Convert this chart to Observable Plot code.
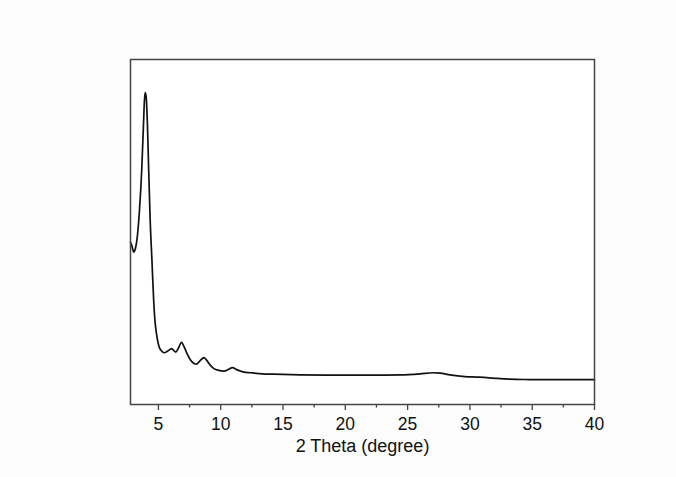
<!DOCTYPE html>
<html>
<head>
<meta charset="utf-8">
<script src="https://cdn.jsdelivr.net/npm/d3@7"></script>
<script src="https://cdn.jsdelivr.net/npm/@observablehq/plot@0.6"></script>
<style>
  html, body { margin: 0; padding: 0; background: #fcfcfc; }
  #chart { width: 676px; height: 477px; }
</style>
</head>
<body>
<div id="chart"></div>
<script>
// 2 Theta (degree)
const twoTheta = [2.76, 2.88, 3.02, 3.16, 3.32, 3.48, 3.66, 3.80, 3.88, 3.94, 4.02, 4.12, 4.22, 4.34, 4.48, 4.62, 4.72, 4.84, 5.06, 5.24, 5.46, 5.72, 6.06, 6.24, 6.40, 6.60, 6.86, 7.04, 7.28, 7.56, 7.86, 8.04, 8.32, 8.66, 8.88, 9.16, 9.46, 9.84, 10.26, 10.64, 10.94, 11.28, 11.86, 12.40, 13.36, 14.24, 16.40, 19.60, 22.00, 24.40, 26.00, 27.04, 27.60, 28.40, 29.60, 30.50, 31.36, 32.20, 33.20, 34.40, 36.40, 40.00];
// Intensity (a.u.)
const intensity = [47.0, 45.9, 44.2, 45.3, 49.1, 56.3, 67.9, 81.0, 88.2, 90.4, 89.1, 81.0, 67.9, 53.4, 41.8, 30.2, 24.4, 20.7, 16.7, 15.6, 15.0, 15.4, 16.2, 15.6, 15.2, 16.3, 18.0, 16.9, 14.9, 13.0, 11.9, 11.7, 12.6, 13.6, 12.8, 11.4, 10.4, 9.9, 9.7, 10.2, 10.7, 10.1, 9.4, 9.2, 8.9, 8.8, 8.6, 8.5, 8.5, 8.6, 8.9, 9.2, 9.1, 8.6, 8.1, 7.95, 7.8, 7.55, 7.35, 7.25, 7.2, 7.2];
const majorTicks = [5, 10, 15, 20, 25, 30, 35, 40];
const minorTicks = [7.5, 12.5, 17.5, 22.5, 27.5, 32.5, 37.5];
const xLabel = "2 Theta (degree)";

const data = twoTheta.map((x, i) => ({x, y: intensity[i]}));

const chart = Plot.plot({
  width: 676,
  height: 477,
  marginLeft: 130,
  marginRight: 82,
  marginTop: 59,
  marginBottom: 73,
  style: {background: "#fcfcfc", fontFamily: "Liberation Sans, Arial, sans-serif", color: "#111"},
  x: {domain: [2.76, 40]},
  y: {domain: [0, 100], axis: null},
  marks: [
    Plot.frame({fill: "white", stroke: null}),
    Plot.axisX({ticks: minorTicks, tickSize: 3.5, tickFormat: () => "", stroke: "#444", strokeWidth: 1.3, label: null}),
    Plot.axisX({ticks: majorTicks, tickSize: 6, tickPadding: 7, fontSize: 17.5, stroke: "#444", strokeWidth: 1.3, label: null, fill: "#111"}),
    Plot.line(data, {x: "x", y: "y", stroke: "#111", strokeWidth: 1.7, curve: "monotone-x"}),
    Plot.frame({stroke: "#444", strokeWidth: 1.5}),
    Plot.text([xLabel], {frameAnchor: "bottom", dy: 42, fontSize: 18, fill: "#111", lineAnchor: "middle"})
  ]
});
document.getElementById("chart").append(chart);
</script>
</body>
</html>
